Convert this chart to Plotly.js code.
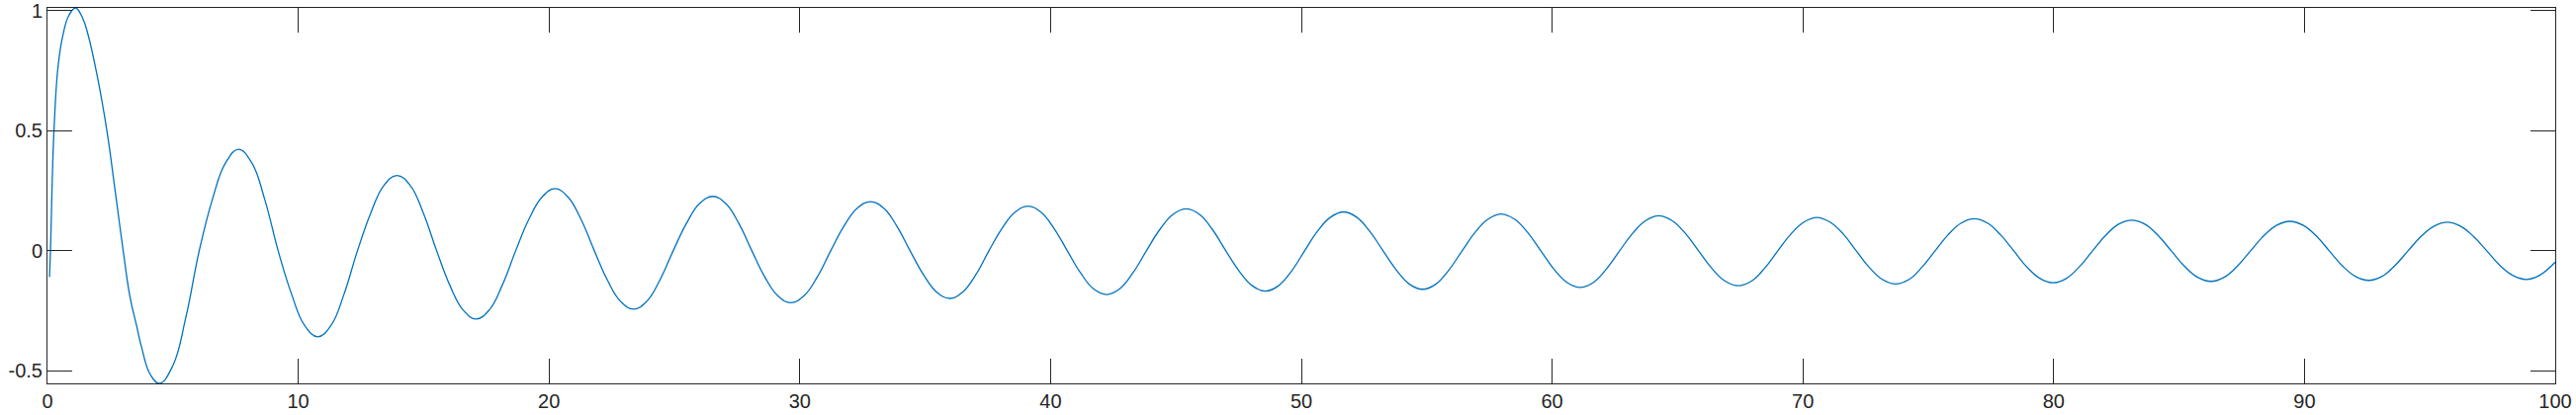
<!DOCTYPE html>
<html>
<head>
<meta charset="utf-8">
<script src="https://cdn.plot.ly/plotly-3.0.1.min.js"></script>
<style>html,body{margin:0;padding:0;background:#fff;}#chart{width:2605px;height:420px;}</style>
</head>
<body>
<div id="chart"></div>
<script>
// Curve samples (x, y)
const xValues = [
  0.08, 0.12, 0.18, 0.26, 0.42, 0.62, 0.85, 1.12, 1.40, 1.62, 2.00, 2.37, 2.70, 3.02, 3.29, 3.55, 3.75, 4.10, 4.47,
  5.00, 5.52, 6.05, 6.57, 7.10, 7.62,
  8.15, 8.67, 9.20, 9.73, 10.25, 10.78,
  11.31, 11.83, 12.36, 12.89, 13.41, 13.94,
  14.47, 14.99, 15.52, 16.04, 16.57, 17.09,
  17.62, 18.14, 18.67, 19.19, 19.72, 20.24,
  20.76, 21.28, 21.81, 22.33, 22.85, 23.37,
  23.90, 24.42, 24.95, 25.48, 26.00, 26.53,
  27.05, 27.57, 28.09, 28.60, 29.12, 29.64,
  30.17, 30.70, 31.23, 31.76, 32.29, 32.82,
  33.35, 33.87, 34.40, 34.93, 35.45, 35.98,
  36.50, 37.02, 37.54, 38.06, 38.58, 39.10,
  39.62, 40.14, 40.67, 41.19, 41.71, 42.23,
  42.76, 43.29, 43.82, 44.35, 44.88, 45.41,
  45.94, 46.46, 46.99, 47.52, 48.04, 48.57,
  49.09, 49.61, 50.13, 50.64, 51.16, 51.68,
  52.21, 52.73, 53.26, 53.79, 54.31, 54.84,
  55.36, 55.88, 56.41, 56.93, 57.45, 57.97,
  58.50, 59.02, 59.55, 60.07, 60.60, 61.12,
  61.64, 62.16, 62.69, 63.21, 63.73, 64.25,
  64.78, 65.31, 65.84, 66.37, 66.90, 67.43,
  67.95, 68.47, 69.00, 69.52, 70.04, 70.56,
  71.08, 71.61, 72.13, 72.65, 73.18, 73.70,
  74.22, 74.74, 75.27, 75.79, 76.31, 76.83,
  77.36, 77.88, 78.41, 78.93, 79.46, 79.98,
  80.50, 81.02, 81.55, 82.07, 82.59, 83.11,
  83.64, 84.16, 84.69, 85.22, 85.74, 86.27,
  86.80, 87.32, 87.85, 88.37, 88.90, 89.42,
  89.94, 90.47, 90.99, 91.51, 92.04, 92.56,
  93.08, 93.60, 94.13, 94.65, 95.17, 95.69,
  96.22, 96.74, 97.27, 97.79, 98.32, 98.84,
  99.36, 100.0
];
const yValues = [
  -0.109, 0.0, 0.25, 0.5, 0.765, 0.90, 0.98, 1.012, 0.97, 0.90, 0.72, 0.5, 0.25, 0.0, -0.191, -0.31, -0.40, -0.515, -0.552,
  -0.478, -0.276, 0.0, 0.212, 0.366, 0.423,
  0.366, 0.212, 0.0, -0.179, -0.310, -0.358,
  -0.310, -0.179, 0.0, 0.157, 0.272, 0.314,
  0.272, 0.157, 0.0, -0.142, -0.246, -0.284,
  -0.246, -0.142, 0.0, 0.130, 0.224, 0.259,
  0.224, 0.130, 0.0, -0.122, -0.210, -0.243,
  -0.210, -0.122, 0.0, 0.114, 0.197, 0.227,
  0.197, 0.114, 0.0, -0.108, -0.187, -0.216,
  -0.187, -0.108, 0.0, 0.103, 0.178, 0.205,
  0.178, 0.103, 0.0, -0.099, -0.171, -0.198,
  -0.171, -0.099, 0.0, 0.093, 0.161, 0.186,
  0.161, 0.093, 0.0, -0.091, -0.158, -0.182,
  -0.158, -0.091, 0.0, 0.088, 0.152, 0.175,
  0.152, 0.088, 0.0, -0.084, -0.145, -0.168,
  -0.145, -0.084, 0.0, 0.081, 0.140, 0.162,
  0.140, 0.081, 0.0, -0.080, -0.139, -0.160,
  -0.139, -0.080, 0.0, 0.077, 0.132, 0.153,
  0.132, 0.077, 0.0, -0.076, -0.132, -0.152,
  -0.132, -0.076, 0.0, 0.073, 0.126, 0.146,
  0.126, 0.073, 0.0, -0.073, -0.126, -0.145,
  -0.126, -0.073, 0.0, 0.070, 0.120, 0.139,
  0.120, 0.070, 0.0, -0.069, -0.120, -0.138,
  -0.120, -0.069, 0.0, 0.067, 0.116, 0.134,
  0.116, 0.067, 0.0, -0.067, -0.115, -0.133,
  -0.115, -0.067, 0.0, 0.064, 0.111, 0.128,
  0.111, 0.064, 0.0, -0.064, -0.110, -0.127,
  -0.110, -0.064, 0.0, 0.062, 0.107, 0.123,
  0.107, 0.062, 0.0, -0.062, -0.107, -0.123,
  -0.107, -0.062, 0.0, 0.060, 0.103, 0.119,
  0.103, 0.060, 0.0, -0.060, -0.103, -0.119,
  -0.103, -0.047
];
const xTickValues = [0, 10, 20, 30, 40, 50, 60, 70, 80, 90, 100];
const xTickLabels = ["0", "10", "20", "30", "40", "50", "60", "70", "80", "90", "100"];
const yTickValues = [-0.5, 0, 0.5, 1];
const yTickLabels = ["-0.5", "0", "0.5", "1"];

const axisColor = "#262626";
const trace = {
  x: xValues,
  y: yValues,
  type: "scatter",
  mode: "lines",
  line: { color: "#0072BD", width: 1.3, shape: "spline", smoothing: 1.2 },
  hoverinfo: "none"
};
const commonAxis = {
  showgrid: false,
  zeroline: false,
  showline: true,
  linecolor: axisColor,
  linewidth: 1,
  mirror: "ticks",
  ticks: "inside",
  ticklen: 25,
  tickwidth: 1,
  tickcolor: axisColor,
  ticklabeloverflow: "allow",
  tickfont: { family: "Liberation Sans, Arial, sans-serif", size: 20, color: axisColor },
  tickmode: "array"
};
const layout = {
  width: 2605,
  height: 420,
  margin: { l: 48, r: 21, t: 8, b: 32, pad: 0 },
  paper_bgcolor: "#ffffff",
  plot_bgcolor: "#ffffff",
  showlegend: false,
  xaxis: Object.assign({}, commonAxis, {
    range: [0, 100],
    tickvals: xTickValues,
    ticktext: xTickLabels
  }),
  yaxis: Object.assign({}, commonAxis, {
    range: [-0.552, 1.012],
    tickvals: yTickValues,
    ticktext: yTickLabels
  })
};
Plotly.newPlot("chart", [trace], layout, { displayModeBar: false, staticPlot: true });
</script>
</body>
</html>
